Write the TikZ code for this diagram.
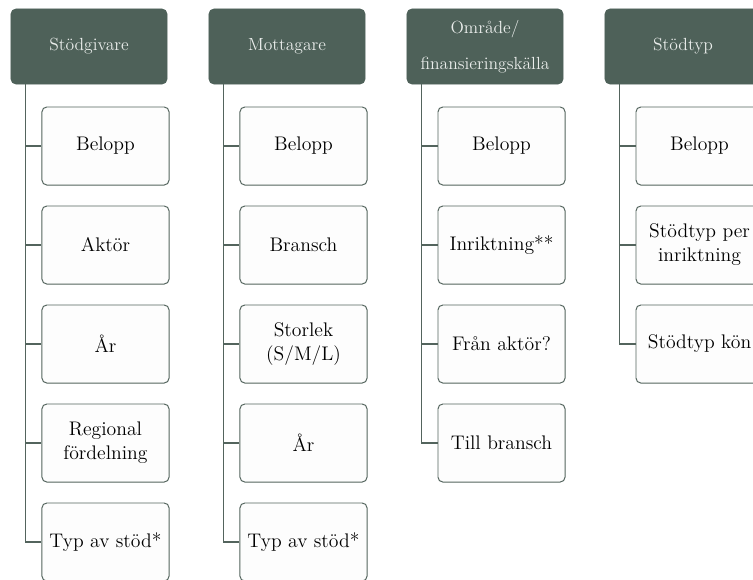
\documentclass[tikz,border=0pt]{standalone}
\usepackage{fontspec}

\definecolor{headfill}{HTML}{4E6159}
\definecolor{headtext}{HTML}{EAEDEB}
\definecolor{linkcol}{HTML}{53645D}
\definecolor{leaffill}{HTML}{FDFDFD}

\begin{document}
\begin{tikzpicture}[x=0.025cm, y=-0.025cm,
    header/.style={draw=headfill, fill=headfill, rounded corners=0.12cm,
        minimum width=3.9cm, minimum height=1.875cm, inner sep=0pt,
        text=headtext, align=center, font=\fontsize{12.5}{26}\selectfont},
    leaf/.style={draw=linkcol, fill=leaffill, rounded corners=0.12cm, line width=0.7pt,
        minimum width=3.175cm, minimum height=1.95cm, inner sep=0pt,
        align=center, font=\fontsize{14}{17}\selectfont},
    link/.style={draw=linkcol, line width=0.9pt}]

    \useasboundingbox (0,0) rectangle (753,579);

    %% Stödgivare

    % Header
    \node[header] (giv) at (89,46.5) {Stödgivare};

    % Items
    \node[leaf] (givA) at (105.5,146) {Belopp};
    \node[leaf] (givB) at (105.5,245) {Aktör};
    \node[leaf] (givC) at (105.5,344) {År};
    \node[leaf] (givD) at (105.5,443) {Regional\\fördelning};
    \node[leaf] (givE) at (105.5,542) {Typ av stöd*};

    % Links
    \draw[link] ([xshift=0.375cm]giv.south west) |- (givA.west);
    \draw[link] ([xshift=0.375cm]giv.south west) |- (givB.west);
    \draw[link] ([xshift=0.375cm]giv.south west) |- (givC.west);
    \draw[link] ([xshift=0.375cm]giv.south west) |- (givD.west);
    \draw[link] ([xshift=0.375cm]giv.south west) |- (givE.west);

    %% Mottagare

    % Header
    \node[header] (mot) at (287,46.5) {Mottagare};

    % Items
    \node[leaf] (motA) at (303.5,146) {Belopp};
    \node[leaf] (motB) at (303.5,245) {Bransch};
    \node[leaf] (motC) at (303.5,344) {Storlek\\(S/M/L)};
    \node[leaf] (motD) at (303.5,443) {År};
    \node[leaf] (motE) at (303.5,542) {Typ av stöd*};

    % Links
    \draw[link] ([xshift=0.375cm]mot.south west) |- (motA.west);
    \draw[link] ([xshift=0.375cm]mot.south west) |- (motB.west);
    \draw[link] ([xshift=0.375cm]mot.south west) |- (motC.west);
    \draw[link] ([xshift=0.375cm]mot.south west) |- (motD.west);
    \draw[link] ([xshift=0.375cm]mot.south west) |- (motE.west);

    %% Område/finansieringskälla

    % Header
    \node[header] (omr) at (485,46.5) {Område/\\finansieringskälla};

    % Items
    \node[leaf] (omrA) at (501.5,146) {Belopp};
    \node[leaf] (omrB) at (501.5,245) {Inriktning**};
    \node[leaf] (omrC) at (501.5,344) {Från aktör?};
    \node[leaf] (omrD) at (501.5,443) {Till bransch};

    % Links
    \draw[link] ([xshift=0.375cm]omr.south west) |- (omrA.west);
    \draw[link] ([xshift=0.375cm]omr.south west) |- (omrB.west);
    \draw[link] ([xshift=0.375cm]omr.south west) |- (omrC.west);
    \draw[link] ([xshift=0.375cm]omr.south west) |- (omrD.west);

    %% Stödtyp

    % Header
    \node[header] (typ) at (683,46.5) {Stödtyp};

    % Items
    \node[leaf] (typA) at (699.5,146) {Belopp};
    \node[leaf] (typB) at (699.5,245) {Stödtyp per\\inriktning};
    \node[leaf] (typC) at (699.5,344) {Stödtyp kön};

    % Links
    \draw[link] ([xshift=0.375cm]typ.south west) |- (typA.west);
    \draw[link] ([xshift=0.375cm]typ.south west) |- (typB.west);
    \draw[link] ([xshift=0.375cm]typ.south west) |- (typC.west);

\end{tikzpicture}
\end{document}
